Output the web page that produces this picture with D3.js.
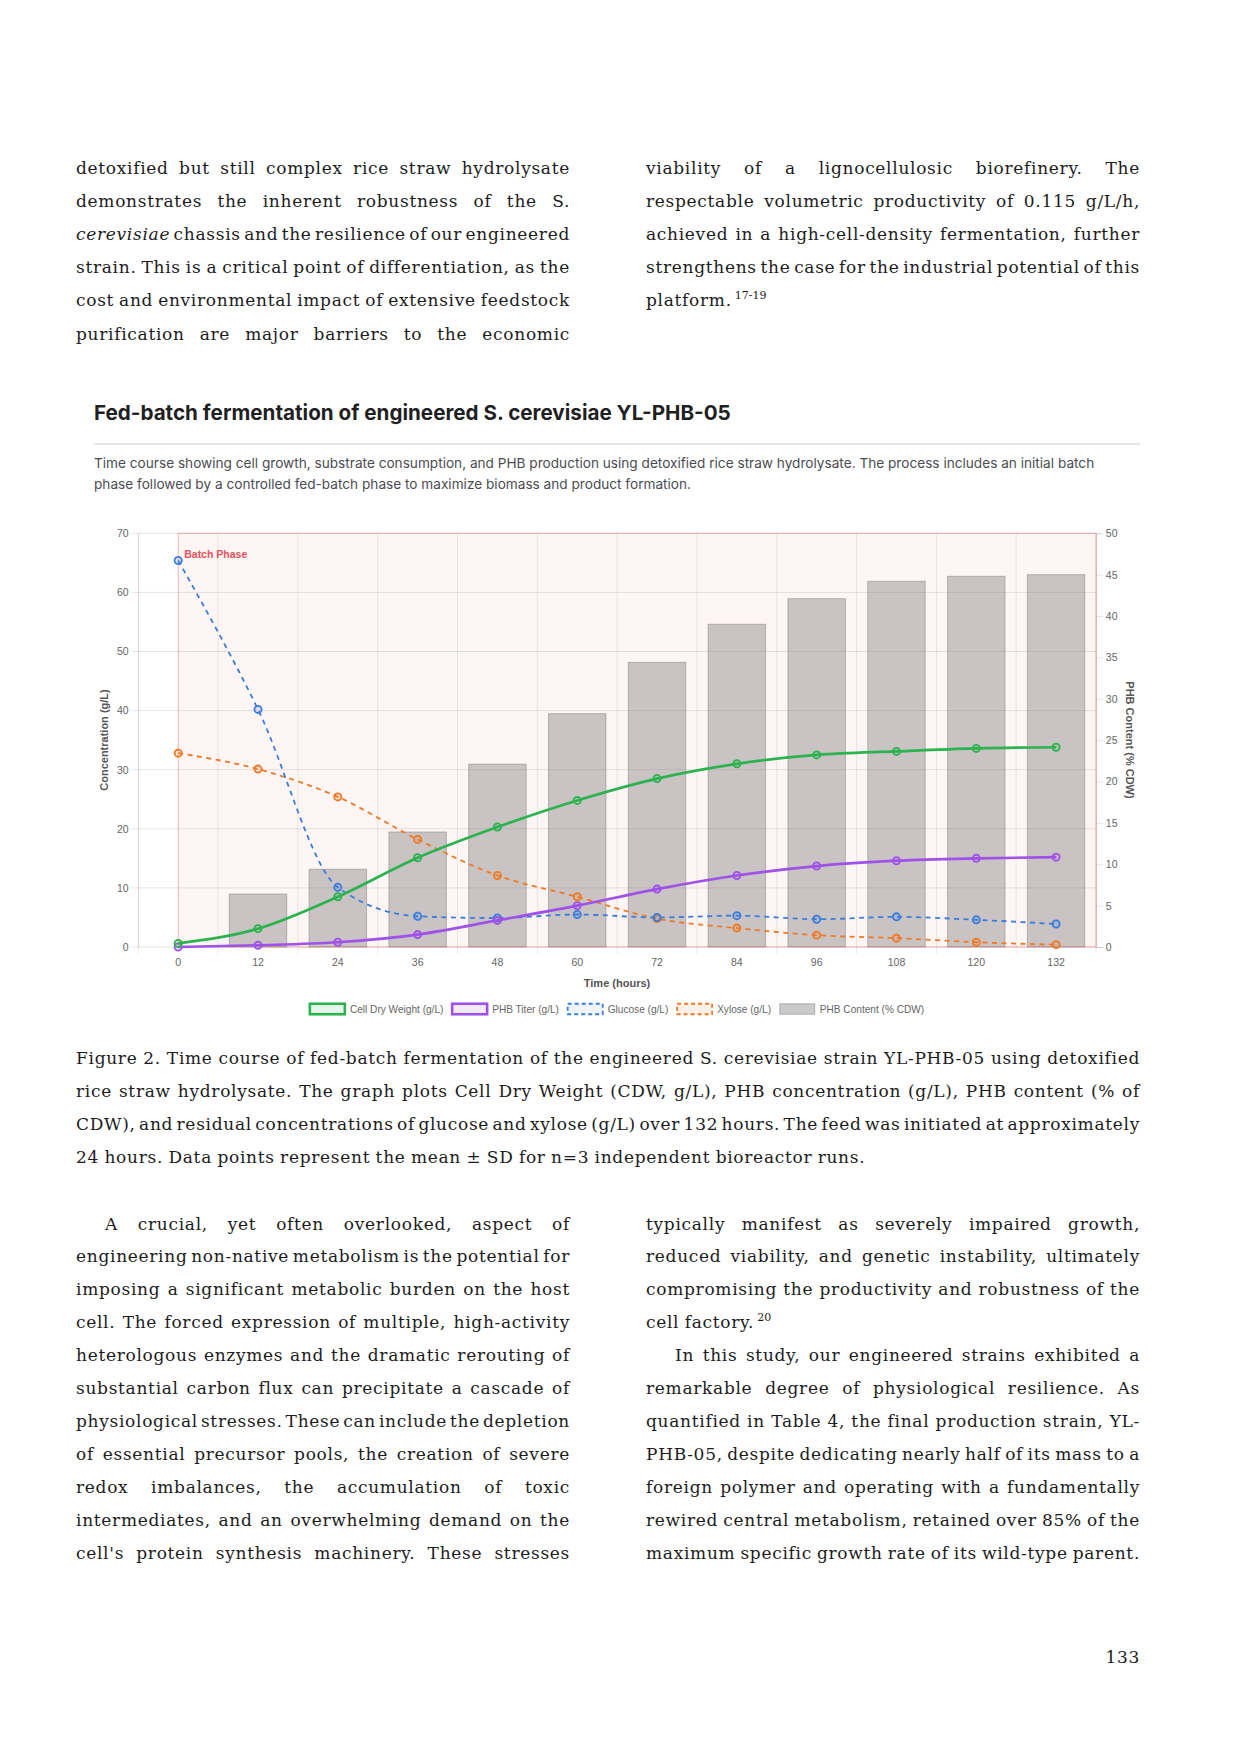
<!DOCTYPE html>
<html><head><meta charset="utf-8">
<script src="https://cdn.jsdelivr.net/npm/d3@7"></script>
<style>
html,body{margin:0;padding:0;background:#fff;}
svg{display:block;}
</style></head>
<body>
<svg id="page" width="1240" height="1754"></svg>
<script>
// ---------------- DATA ----------------
const hours = [0, 12, 24, 36, 48, 60, 72, 84, 96, 108, 120, 132];
const cdw = [0.6, 3.1, 8.5, 15.1, 20.3, 24.8, 28.5, 31.0, 32.5, 33.1, 33.6, 33.8];
const phbTiter = [0.0, 0.3, 0.8, 2.1, 4.5, 7.0, 9.8, 12.1, 13.7, 14.6, 15.0, 15.2];
const glucose = [65.4, 40.2, 10.1, 5.2, 4.9, 5.5, 5.0, 5.3, 4.7, 5.1, 4.6, 3.9];
const xylose = [32.8, 30.1, 25.4, 18.2, 12.1, 8.5, 4.8, 3.2, 2.0, 1.5, 0.8, 0.4];
const phbContent = [0, 6.4, 9.4, 13.9, 22.1, 28.2, 34.4, 39.0, 42.1, 44.2, 44.8, 45.0];
const leftTicks = [0, 10, 20, 30, 40, 50, 60, 70];
const rightTicks = [0, 5, 10, 15, 20, 25, 30, 35, 40, 45, 50];
const seriesNames = ["Cell Dry Weight (g/L)", "PHB Titer (g/L)", "Glucose (g/L)", "Xylose (g/L)", "PHB Content (% CDW)"];

const chartTitle = "Fed-batch fermentation of engineered S. cerevisiae YL-PHB-05";
const chartSubtitle = [
  "Time course showing cell growth, substrate consumption, and PHB production using detoxified rice straw hydrolysate. The process includes an initial batch",
  "phase followed by a controlled fed-batch phase to maximize biomass and product formation."
];

// body text lines: [text, justify, indent]
const topLeft = [
  ["detoxified but still complex rice straw hydrolysate", true],
  ["demonstrates the inherent robustness of the S.", true],
  ["*cerevisiae* chassis and the resilience of our engineered", true],
  ["strain. This is a critical point of differentiation, as the", true],
  ["cost and environmental impact of extensive feedstock", true],
  ["purification are major barriers to the economic", true]
];
const topRight = [
  ["viability of a lignocellulosic biorefinery. The", true],
  ["respectable volumetric productivity of 0.115 g/L/h,", true],
  ["achieved in a high-cell-density fermentation, further", true],
  ["strengthens the case for the industrial potential of this", true],
  ["platform. ^17-19", false]
];
const caption = [
  ["Figure 2. Time course of fed-batch fermentation of the engineered S. cerevisiae strain YL-PHB-05 using detoxified", true],
  ["rice straw hydrolysate. The graph plots Cell Dry Weight (CDW, g/L), PHB concentration (g/L), PHB content (% of", true],
  ["CDW), and residual concentrations of glucose and xylose (g/L) over 132 hours. The feed was initiated at approximately", true],
  ["24 hours. Data points represent the mean ± SD for n=3 independent bioreactor runs.", false]
];
const bottomLeft = [
  ["A crucial, yet often overlooked, aspect of", true, true],
  ["engineering non-native metabolism is the potential for", true],
  ["imposing a significant metabolic burden on the host", true],
  ["cell. The forced expression of multiple, high-activity", true],
  ["heterologous enzymes and the dramatic rerouting of", true],
  ["substantial carbon flux can precipitate a cascade of", true],
  ["physiological stresses. These can include the depletion", true],
  ["of essential precursor pools, the creation of severe", true],
  ["redox imbalances, the accumulation of toxic", true],
  ["intermediates, and an overwhelming demand on the", true],
  ["cell's protein synthesis machinery. These stresses", true]
];
const bottomRight = [
  ["typically manifest as severely impaired growth,", true],
  ["reduced viability, and genetic instability, ultimately", true],
  ["compromising the productivity and robustness of the", true],
  ["cell factory. ^20", false],
  ["In this study, our engineered strains exhibited a", true, true],
  ["remarkable degree of physiological resilience. As", true],
  ["quantified in Table 4, the final production strain, YL-", true],
  ["PHB-05, despite dedicating nearly half of its mass to a", true],
  ["foreign polymer and operating with a fundamentally", true],
  ["rewired central metabolism, retained over 85% of the", true],
  ["maximum specific growth rate of its wild-type parent.", true]
];
const pageNumber = "133";

// ---------------- PAGE TEXT ----------------
const svg = d3.select("#page");
const BODY_FONT = "'DejaVu Serif', serif";
const BODY_SIZE = 17;
const BODY_LS = 0.7;
const BODY_COLOR = "#1c1c1c";

function placeLine(parent, str, x0, x1, y, justify) {
  const words = str.split(" ");
  const g = parent.append("g");
  const nodes = words.map(w => {
    const sup = w.startsWith("^");
    const t = g.append("text")
      .attr("y", sup ? y - 7 : y)
      .attr("font-family", BODY_FONT)
      .attr("font-size", sup ? 11 : BODY_SIZE)
      .attr("letter-spacing", sup ? 0 : BODY_LS)
      .attr("fill", BODY_COLOR);
    const txt = sup ? w.slice(1) : w;
    txt.split(/(\*[^*]+\*)/).filter(s => s.length).forEach(p => {
      if (p.startsWith("*")) t.append("tspan").attr("font-style", "italic").text(p.slice(1, -1));
      else t.append("tspan").text(p);
    });
    return {t, sup};
  });
  const widths = nodes.map(n => n.t.node().getComputedTextLength());
  const total = d3.sum(widths);
  const space = BODY_SIZE * 0.318;
  let gap = space;
  let factor = 1;
  if (justify && words.length > 1) {
    gap = (x1 - x0 - total) / (words.length - 1);
    if (gap < 3) {
      gap = 3;
      factor = (x1 - x0 - gap * (words.length - 1)) / total;
    }
  }
  let x = x0;
  nodes.forEach((n, i) => {
    const w = widths[i] * factor;
    n.t.attr("x", x);
    if (factor !== 1) n.t.attr("textLength", w).attr("lengthAdjust", "spacingAndGlyphs");
    x += w + (nodes[i + 1] && nodes[i + 1].sup ? 3 : gap);
  });
}

function placeBlock(lines, x0, x1, y0, step) {
  lines.forEach((l, i) => {
    const indent = l[2] ? 29 : 0;
    placeLine(svg, l[0], x0 + indent, x1, y0 + i * step, l[1]);
  });
}

const colL = [76, 570], colR = [646, 1140];
placeBlock(topLeft, colL[0], colL[1], 174, 33.1);
placeBlock(topRight, colR[0], colR[1], 174, 33.1);
placeBlock(caption, 76, 1140, 1064, 32.9);
placeBlock(bottomLeft, colL[0], colL[1], 1229.5, 32.9);
placeBlock(bottomRight, colR[0], colR[1], 1229.5, 32.9);
svg.append("text").attr("x", 1140).attr("y", 1663).attr("text-anchor", "end")
  .attr("font-family", BODY_FONT).attr("font-size", BODY_SIZE).attr("letter-spacing", BODY_LS)
  .attr("fill", BODY_COLOR).text(pageNumber);

// ---------------- CHART HEADER ----------------
const HEAD_FONT = "Inter, Roboto, 'Noto Sans', sans-serif";
const titleEl = svg.append("text").attr("x", 94).attr("y", 420)
  .attr("font-family", HEAD_FONT).attr("font-weight", 700).attr("font-size", 20)
  .attr("fill", "#1f1f24").text(chartTitle);
{
  const w = titleEl.node().getComputedTextLength();
  titleEl.attr("font-size", 20 * 637 / w);
}
svg.append("line").attr("x1", 94).attr("x2", 1140).attr("y1", 444).attr("y2", 444)
  .attr("stroke", "#e6e6e8").attr("stroke-width", 2);
const subEls = chartSubtitle.map((s, i) => svg.append("text").attr("x", 94).attr("y", 468 + i * 21)
  .attr("font-family", HEAD_FONT).attr("font-size", 13).attr("fill", "#4a4c52").text(s));
{
  const w = subEls[0].node().getComputedTextLength();
  const fs = 13 * 1002 / w;
  subEls.forEach(e => e.attr("font-size", fs));
}

// ---------------- CHART ----------------
const CH_FONT = "'Liberation Sans', Arial, Helvetica, sans-serif";
const plot = {left: 138.3, right: 1096, top: 533.3, bottom: 947};
const x = d3.scaleBand().domain(hours).range([plot.left, plot.right]).paddingInner(0).paddingOuter(0);
const yL = d3.scaleLinear().domain([0, 70]).range([plot.bottom, plot.top]);
const yR = d3.scaleLinear().domain([0, 50]).range([plot.bottom, plot.top]);
const cx = h => x(h) + x.bandwidth() / 2;
const GRID = "rgba(0,0,0,0.1)";

const colors = {cdw: "#2cb34f", phb: "#9f52e8", glu: "#3b7ddd", xyl: "#ee7a25"};
const barFill = "rgba(125,120,122,0.4)";
const barStroke = "rgba(120,115,118,0.45)";

const chart = svg.append("g");

// horizontal grid (left axis) incl. tick extension
chart.append("g").selectAll("line").data(leftTicks).join("line")
  .attr("x1", plot.left - 7).attr("x2", plot.right)
  .attr("y1", d => yL(d)).attr("y2", d => yL(d))
  .attr("stroke", GRID).attr("stroke-width", 1);
// vertical grid at category boundaries incl. tick extension
const boundaries = hours.map(h => x(h)).concat([plot.right]);
chart.append("g").selectAll("line").data(boundaries).join("line")
  .attr("x1", d => d).attr("x2", d => d)
  .attr("y1", plot.top).attr("y2", plot.bottom + 7)
  .attr("stroke", "rgba(0,0,0,0.08)").attr("stroke-width", 1);

// batch phase box background
const boxX0 = cx(hours[0]);
chart.append("rect").attr("x", boxX0).attr("y", plot.top)
  .attr("width", plot.right - boxX0).attr("height", plot.bottom - plot.top)
  .attr("fill", "rgba(239,68,68,0.05)");

// bars
const barW = x.bandwidth() * 0.72;
chart.append("g").selectAll("rect").data(hours.map((h, i) => ({h, v: phbContent[i]})).filter(d => d.v > 0))
  .join("rect")
  .attr("x", d => cx(d.h) - barW / 2).attr("width", barW)
  .attr("y", d => yR(d.v)).attr("height", d => yR(0) - yR(d.v))
  .attr("fill", barFill).attr("stroke", barStroke).attr("stroke-width", 1);

// box border
chart.append("rect").attr("x", boxX0).attr("y", plot.top)
  .attr("width", plot.right - boxX0).attr("height", plot.bottom - plot.top)
  .attr("fill", "none").attr("stroke", "rgba(239,68,68,0.32)").attr("stroke-width", 1.2);

// axes
const axL = chart.append("g").attr("transform", `translate(${plot.left},0)`)
  .call(d3.axisLeft(yL).tickValues(leftTicks).tickSize(0).tickPadding(9.6));
const axR = chart.append("g").attr("transform", `translate(${plot.right},0)`)
  .call(d3.axisRight(yR).tickValues(rightTicks).tickSize(7).tickPadding(2.8));
const axB = chart.append("g").attr("transform", `translate(0,${plot.bottom})`)
  .call(d3.axisBottom(x).tickValues(hours).tickSize(0).tickPadding(12));
[axL, axR, axB].forEach(a => {
  a.selectAll("text").attr("font-family", CH_FONT).attr("font-size", 10.5).attr("fill", "#666");
  a.selectAll(".tick line").attr("stroke", GRID);
  a.select(".domain").attr("stroke", GRID);
});
axB.select(".domain").remove();
axL.select(".domain").attr("stroke", GRID);

// lines
function drawSeries(vals, color, dashed, width) {
  const pts = hours.map((h, i) => [cx(h), yL(vals[i])]);
  chart.append("path").attr("d", d3.line().curve(d3.curveMonotoneX)(pts))
    .attr("fill", "none").attr("stroke", color).attr("stroke-width", width)
    .attr("stroke-dasharray", dashed ? "5,4.5" : null).attr("stroke-linecap", "butt");
  chart.append("g").selectAll("circle").data(pts).join("circle")
    .attr("cx", d => d[0]).attr("cy", d => d[1]).attr("r", 3.6)
    .attr("fill", color).attr("fill-opacity", 0.18)
    .attr("stroke", color).attr("stroke-width", 1.8);
}
drawSeries(xylose, colors.xyl, true, 1.8);
drawSeries(glucose, colors.glu, true, 1.8);
drawSeries(phbTiter, colors.phb, false, 2.7);
drawSeries(cdw, colors.cdw, false, 2.7);

// batch phase label
chart.append("text").attr("x", boxX0 + 6).attr("y", 558)
  .attr("font-family", CH_FONT).attr("font-weight", 700).attr("font-size", 10.5)
  .attr("fill", "#e5535a").text("Batch Phase");

// axis titles
chart.append("text").attr("transform", `translate(104.3,740) rotate(-90)`)
  .attr("text-anchor", "middle").attr("dominant-baseline", "central")
  .attr("font-family", CH_FONT).attr("font-weight", 700).attr("font-size", 11)
  .attr("fill", "#555").text("Concentration (g/L)");
chart.append("text").attr("transform", `translate(1130,740) rotate(90)`)
  .attr("text-anchor", "middle").attr("dominant-baseline", "central")
  .attr("font-family", CH_FONT).attr("font-weight", 700).attr("font-size", 11)
  .attr("fill", "#555").text("PHB Content (% CDW)");
chart.append("text").attr("x", 617).attr("y", 983)
  .attr("text-anchor", "middle").attr("dominant-baseline", "central")
  .attr("font-family", CH_FONT).attr("font-weight", 700).attr("font-size", 11)
  .attr("fill", "#555").text("Time (hours)");

// legend
const legendStyles = [
  {stroke: colors.cdw, fill: "rgba(44,179,79,0.12)", dash: null, sw: 2.6},
  {stroke: colors.phb, fill: "rgba(159,82,232,0.12)", dash: null, sw: 2.6},
  {stroke: colors.glu, fill: "rgba(59,125,221,0.08)", dash: "4,3", sw: 1.8},
  {stroke: colors.xyl, fill: "rgba(238,122,37,0.1)", dash: "4,3", sw: 1.8},
  {stroke: barStroke, fill: barFill, dash: null, sw: 1}
];
const LG_FS = 10.1, BOXW = 35, BOXH = 10.5, LG_PAD = 8.75;
const lg = chart.append("g");
const items = seriesNames.map((name, i) => {
  const t = lg.append("text").attr("font-family", CH_FONT).attr("font-size", LG_FS)
    .attr("fill", "#666").attr("dominant-baseline", "central").attr("y", 1009).text(name);
  const w = t.node().getComputedTextLength();
  return {t, w, i};
});
const totalW = d3.sum(items, d => BOXW + LG_FS / 2 + d.w) + LG_PAD * (items.length - 1);
let lx = 617 - totalW / 2;
items.forEach(d => {
  const s = legendStyles[d.i];
  lg.append("rect").attr("x", lx).attr("y", 1009 - BOXH / 2).attr("width", BOXW).attr("height", BOXH)
    .attr("fill", s.fill).attr("stroke", s.stroke).attr("stroke-width", s.sw)
    .attr("stroke-dasharray", s.dash);
  d.t.attr("x", lx + BOXW + LG_FS / 2);
  lx += BOXW + LG_FS / 2 + d.w + LG_PAD;
});
</script>
</body></html>
